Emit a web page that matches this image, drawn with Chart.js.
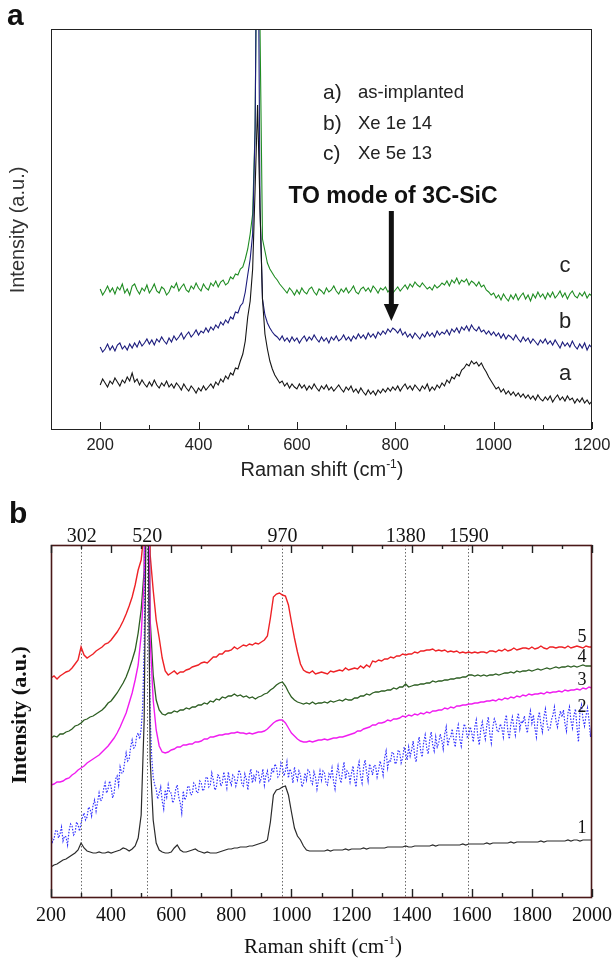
<!DOCTYPE html>
<html>
<head>
<meta charset="utf-8">
<title>Raman spectra</title>
<script src="https://cdn.jsdelivr.net/npm/chart.js@4.4.1/dist/chart.umd.min.js"></script>
<style>
  body { margin: 0; background: #fff; }
  #figure { position: relative; width: 614px; height: 961px; background: #fff; }
  canvas { position: absolute; left: 0; }
  #panel-a { top: 0; }
  #panel-b { top: 480px; }
</style>
</head>
<body>
<div id="figure">
  <canvas id="panel-a" width="614" height="480"></canvas>
  <canvas id="panel-b" width="614" height="481"></canvas>
</div>
<script>
// ---- panel a: Raman shift grid (cm-1, 5 cm-1 steps) and spectra (a.u.) ----
const ramanShiftA = Array.from({ length: 201 }, (_, i) => 200 + i * 5)

const asImplanted = [
  44, 50, 46, 42, 48, 45, 51, 47, 43, 49,
  46, 52, 48, 56, 47, 50, 44, 49, 45, 42,
  47, 43, 49, 44, 41, 46, 43, 48, 42, 45,
  41, 46, 43, 39, 45, 41, 38, 43, 40, 36,
  41, 38, 43, 39, 42, 45, 41, 47, 44, 50,
  47, 53, 50, 56, 54, 61, 60, 68, 75, 88,
  112, 128, 160, 240, 324, 220, 130, 95, 80, 68,
  60, 54, 50, 46, 48, 43, 46, 41, 45, 42,
  40, 45, 41, 44, 39, 43, 40, 45, 41, 38,
  43, 40, 44, 39, 42, 38, 41, 44, 40, 37,
  42, 39, 43, 37, 40, 36, 41, 37, 34, 39,
  35, 38, 34, 39, 36, 40, 37, 41, 38, 42,
  39, 43, 38, 42, 45, 40, 43, 39, 44, 41,
  38, 43, 40, 45, 38, 42, 39, 44, 41, 46,
  43, 49, 46, 52, 50, 55, 53, 59, 61, 65,
  63, 68, 65, 67, 63, 66, 61, 57, 52, 48,
  44, 40, 42, 37, 40, 35, 38, 34, 37, 33,
  36, 32, 35, 31, 34, 30, 33, 29, 34, 30,
  28, 32, 29, 33, 27, 31, 34, 29, 32, 28,
  33, 29, 31, 26, 30, 27, 31, 26, 29, 25,
  28,
]
const xe1e14 = [
  82, 77, 80, 85, 79, 83, 78, 84, 86, 80,
  83, 79, 85, 81, 86, 82, 88, 83, 86, 90,
  85, 89, 84, 90, 87, 92, 88, 85, 91, 87,
  93, 89, 92, 96, 90, 94, 97, 92, 95, 99,
  94, 98, 96, 101, 97, 102, 99, 104, 101, 107,
  104, 109, 106, 112, 110, 117, 116, 123, 126, 137,
  154, 170, 195, 300, 600, 220, 130, 114, 106, 101,
  97, 94, 92, 89, 93, 88, 91, 87, 92, 88,
  91, 86, 90, 93, 88, 92, 89, 94, 90, 87,
  92, 88, 91, 86, 92, 89, 93, 88, 90, 94,
  89, 92, 88, 93, 90, 95, 91, 94, 90, 96,
  92, 95, 91, 97, 94, 98, 95, 100, 97, 101,
  99, 96, 100, 94, 97, 92, 95, 91, 96, 93,
  90, 95, 92, 97, 93, 96, 92, 98, 94, 97,
  95, 99, 94, 100, 97, 101, 96, 102, 99, 103,
  98, 104, 100, 98, 102, 97, 99, 95, 98, 94,
  97, 93, 96, 91, 95, 90, 94, 92, 89, 94,
  90, 87, 92, 88, 91, 86, 90, 87, 84, 89,
  86, 90, 85, 88, 84, 89, 85, 81, 87, 83,
  86, 82, 88, 83, 80, 85, 81, 86, 79, 84,
  81,
]
const xe5e13 = [
  140, 134, 138, 143, 137, 141, 135, 142, 139, 145, 136, 140, 134, 143, 145, 139, 135, 141, 138, 144,
  136, 140, 145, 138, 136, 142, 140, 134, 137, 143, 141, 146, 138, 142, 145, 139, 137, 143, 140, 146,
  141, 138, 145, 141, 139, 146, 143, 148, 142, 147, 149, 144, 146, 152, 150, 155, 154, 160, 162, 170,
  180, 195, 215, 300, 600, 400, 190, 178, 166, 160, 156, 152, 149, 145, 142, 139, 136, 141, 138, 134,
  139, 135, 141, 137, 135, 140, 142, 137, 134, 140, 138, 135, 141, 137, 139, 143, 138, 135, 140, 137,
  141, 136, 139, 143, 137, 135, 140, 142, 138, 141, 137, 143, 140, 136, 141, 139, 142, 137, 140, 136,
  139, 142, 138, 141, 144, 140, 145, 142, 147, 144, 142, 146, 143, 140, 142, 139, 144, 141, 143, 146,
  144, 148, 143, 149, 146, 151, 145, 149, 147, 150, 144, 148, 146, 143, 147, 142, 144, 139, 137, 134,
  136, 131, 134, 129, 135, 131, 128, 134, 130, 135, 129, 133, 136, 130, 134, 128, 135, 131, 137, 132,
  135, 130, 136, 132, 137, 131, 134, 138, 132, 136, 130, 135, 138, 133, 131, 136, 133, 137, 131, 135,
  133,
]
const sampleKeys = ["a)", "b)", "c)"]
const sampleNames = ["as-implanted", "Xe 1e 14", "Xe 5e 13"]
const toModeShift = 792

// ---- panel b ----
const ramanShiftB = Array.from({ length: 181 }, (_, i) => 200 + i * 10)
const ramanShiftBFine = Array.from({ length: 361 }, (_, i) => 200 + i * 5)
const peakMarkers = [302, 520, 970, 1380, 1590]

const spectrum1 = [
  30, 32, 33, 35, 37, 38, 40, 42, 44, 47,
  54, 49, 46, 45, 44, 44, 45, 44, 44, 45,
  44, 45, 46, 47, 49, 48, 46, 48, 51, 59,
  82, 177, 500, 137, 77, 54, 47, 45, 44, 44,
  45, 49, 52, 47, 45, 45, 46, 47, 48, 46,
  45, 44, 45, 44, 44, 44, 45, 46, 47, 48,
  48, 49, 49, 50, 50, 50, 51, 51, 52, 53,
  54, 55, 57, 75, 102, 107, 108, 110, 111, 102,
  85, 69, 61, 57, 51, 47, 46, 46, 46, 46,
  46, 46, 47, 46, 47, 47, 47, 47, 48, 47,
  48, 48, 48, 48, 49, 48, 49, 49, 49, 49,
  49, 49, 50, 50, 50, 50, 50, 50, 51, 50,
  50, 51, 51, 51, 51, 51, 51, 52, 51, 52,
  52, 52, 52, 52, 52, 52, 52, 53, 52, 53,
  53, 53, 53, 53, 53, 54, 53, 54, 54, 54,
  54, 54, 54, 55, 54, 55, 55, 55, 55, 55,
  55, 55, 55, 56, 55, 56, 56, 56, 56, 56,
  56, 56, 57, 56, 57, 57, 56, 57, 57, 57,
  57,
]
// noisy spectrum 2 is sampled every 5 cm-1
const spectrum2 = [
  62, 55, 58, 66, 67, 59, 63, 70, 56, 61, 60, 52, 66, 73, 71, 62, 64, 75, 72, 66,
  74, 80, 84, 77, 80, 90, 88, 81, 92, 97, 86, 95, 104, 96, 98, 108, 114, 104, 108, 116,
  110, 99, 104, 118, 121, 112, 130, 124, 124, 135, 144, 136, 138, 150, 157, 149, 150, 161, 164, 158,
  168, 190, 250, 380, 500, 300, 180, 140, 120, 112, 108, 98, 104, 110, 96, 88, 107, 100, 112, 104,
  104, 94, 98, 108, 112, 100, 94, 84, 106, 97, 100, 111, 110, 102, 103, 114, 112, 104, 105, 116,
  114, 106, 108, 119, 120, 110, 112, 124, 117, 107, 109, 122, 121, 111, 114, 125, 117, 109, 125, 116,
  112, 122, 120, 111, 116, 127, 124, 113, 111, 123, 118, 107, 122, 128, 114, 121, 117, 126, 125, 115,
  119, 128, 112, 121, 126, 116, 118, 129, 124, 133, 130, 120, 122, 134, 130, 121, 126, 135, 119, 128,
  124, 114, 130, 122, 117, 126, 122, 110, 114, 124, 117, 127, 125, 116, 113, 125, 120, 108, 117, 126,
  117, 126, 124, 114, 112, 123, 120, 129, 116, 108, 122, 131, 120, 114, 126, 135, 118, 126, 124, 115,
  124, 131, 117, 110, 128, 135, 121, 114, 130, 137, 125, 116, 133, 128, 122, 132, 131, 120, 127, 136,
  130, 122, 139, 146, 129, 137, 136, 145, 143, 133, 135, 147, 145, 134, 139, 150, 144, 137, 150, 141,
  147, 156, 141, 135, 152, 160, 146, 140, 155, 162, 149, 143, 157, 165, 152, 146, 160, 150, 154, 163,
  157, 148, 163, 170, 151, 158, 160, 168, 157, 150, 166, 172, 158, 151, 164, 173, 169, 160, 162, 170,
  164, 155, 170, 177, 161, 152, 168, 175, 165, 158, 172, 180, 163, 154, 170, 178, 174, 165, 166, 173,
  169, 160, 175, 182, 166, 158, 173, 180, 170, 162, 177, 184, 168, 176, 174, 181, 171, 164, 178, 186,
  174, 182, 169, 160, 178, 185, 172, 165, 180, 188, 174, 167, 168, 177, 182, 190, 176, 170, 179, 186,
  180, 187, 173, 166, 184, 190, 176, 169, 182, 188, 170, 155, 186, 192, 178, 171, 181, 189, 177, 160,
  177,
]
const spectrum3 = [
  112, 113, 115, 115, 116, 118, 119, 122, 124, 127,
  129, 131, 134, 136, 138, 140, 142, 145, 148, 151,
  155, 159, 164, 170, 177, 184, 194, 204, 217, 232,
  262, 317, 600, 257, 197, 167, 151, 145, 144, 145,
  147, 148, 150, 150, 152, 152, 153, 153, 155, 155,
  156, 158, 158, 160, 160, 161, 162, 162, 163, 163,
  164, 164, 165, 164, 164, 163, 164, 163, 164, 165,
  165, 166, 168, 171, 174, 176, 177, 177, 174, 169,
  164, 161, 158, 156, 155, 155, 156, 155, 156, 157,
  157, 158, 157, 158, 159, 159, 160, 160, 161, 162,
  163, 164, 166, 166, 168, 169, 170, 172, 172, 174,
  174, 175, 177, 176, 178, 178, 179, 181, 180, 182,
  181, 183, 182, 184, 183, 185, 184, 186, 186, 187,
  187, 189, 188, 190, 189, 191, 191, 192, 192, 193,
  193, 194, 194, 195, 195, 196, 196, 197, 196, 198,
  197, 199, 198, 200, 199, 201, 200, 202, 201, 203,
  202, 203, 203, 204, 203, 205, 204, 205, 205, 206,
  205, 207, 206, 207, 207, 208, 207, 209, 208, 210,
  209,
]
const spectrum4 = [
  159, 161, 160, 163, 163, 165, 166, 168, 171, 172,
  174, 177, 178, 180, 181, 183, 185, 187, 190, 194,
  196, 200, 204, 209, 214, 220, 228, 237, 247, 264,
  287, 327, 600, 277, 222, 197, 187, 183, 182, 184,
  184, 186, 185, 187, 187, 189, 188, 190, 190, 192,
  192, 194, 193, 196, 195, 198, 197, 200, 199, 201,
  201, 203, 201, 202, 200, 201, 199, 200, 198, 200,
  201, 203, 204, 207, 209, 212, 214, 215, 211, 205,
  200, 197, 195, 194, 193, 194, 193, 195, 193, 194,
  194, 195, 194, 196, 195, 196, 197, 196, 198, 197,
  197, 199, 199, 201, 201, 203, 202, 204, 205, 205,
  206, 206, 207, 207, 209, 208, 210, 210, 213, 210,
  211, 212, 212, 213, 213, 214, 214, 216, 215, 216,
  216, 217, 217, 218, 218, 219, 219, 220, 220, 222,
  222, 221, 222, 221, 222, 221, 222, 222, 223, 222,
  223, 224, 224, 225, 224, 226, 225, 226, 226, 227,
  226, 227, 228, 227, 228, 229, 228, 229, 230, 229,
  230, 230, 231, 230, 231, 230, 231, 232, 231, 231,
  231,
]
const spectrum5 = [
  219, 221, 218, 221, 223, 225, 226, 229, 233, 237,
  250, 242, 239, 241, 243, 246, 248, 250, 253, 254,
  257, 261, 265, 270, 276, 283, 291, 300, 312, 327,
  337, 367, 600, 342, 307, 277, 259, 239, 226, 222,
  224, 226, 223, 225, 225, 227, 228, 230, 231, 232,
  234, 235, 234, 237, 240, 240, 243, 243, 246, 246,
  247, 250, 248, 250, 252, 251, 253, 252, 254, 253,
  255, 257, 261, 279, 300, 303, 304, 302, 301, 292,
  275, 259, 245, 233, 227, 225, 224, 226, 223, 224,
  225, 224, 223, 226, 225, 226, 227, 226, 229, 227,
  228, 229, 228, 231, 229, 232, 230, 236, 235, 237,
  236, 238, 238, 240, 239, 241, 241, 243, 242, 243,
  243, 245, 244, 246, 246, 247, 247, 248, 246, 247,
  246, 247, 245, 246, 245, 246, 244, 245, 244, 245,
  244, 245, 244, 245, 245, 244, 246, 246, 245, 247,
  246, 248, 246, 247, 249, 247, 248, 249, 249, 248,
  250, 248, 249, 251, 249, 248, 250, 250, 249, 250,
  250, 249, 251, 249, 250, 251, 250, 249, 251, 250,
  250,
]
const curveNumbers = ["5", "4", "3", "2", "1"]

const SANS = '"Liberation Sans", Arial, Helvetica, sans-serif'
const SERIF = '"Liberation Serif", "Times New Roman", serif'

const toPoints = (xs, ys) => xs.map((x, i) => ({ x: x, y: ys[i] }))

// keep the plot frame fixed: tick labels may hang over the frame ends
const fixAxisBox = (height) => (s) => {
  s.height = height
  s.paddingLeft = 0
  s.paddingRight = 0
}

function drawText(ctx, str, x, y, font, align, color) {
  ctx.font = font
  ctx.textAlign = align || "left"
  ctx.textBaseline = "alphabetic"
  ctx.fillStyle = color || "#222"
  ctx.fillText(str, x, y)
}

// axis title with a "-1" superscript, centred on cx
function drawUnitTitle(ctx, cx, y, family, size, color) {
  const main = "Raman shift (cm"
  const sup = "-1"
  const close = ")"
  const bigFont = size + "px " + family
  const smallFont = Math.round(size * 0.6) + "px " + family
  ctx.font = bigFont
  const w1 = ctx.measureText(main).width
  const w3 = ctx.measureText(close).width
  ctx.font = smallFont
  const w2 = ctx.measureText(sup).width
  let x = cx - (w1 + w2 + w3) / 2
  drawText(ctx, main, x, y, bigFont, "left", color)
  x += w1
  drawText(ctx, sup, x, y - size * 0.42, smallFont, "left", color)
  x += w2
  drawText(ctx, close, x, y, bigFont, "left", color)
}

function drawVerticalTitle(ctx, str, cx, cy, font, color) {
  ctx.save()
  ctx.translate(cx, cy)
  ctx.rotate(-Math.PI / 2)
  ctx.font = font
  ctx.textAlign = "center"
  ctx.textBaseline = "middle"
  ctx.fillStyle = color
  ctx.fillText(str, 0, 0)
  ctx.restore()
}

const panelADecor = {
  id: "panelADecor",
  afterDraw(chart) {
    const { ctx, chartArea: area } = chart
    const x = chart.scales.x
    ctx.save()
    ctx.strokeStyle = "#222"
    ctx.lineWidth = 1
    ctx.strokeRect(area.left + 0.5, area.top + 0.5, area.right - area.left - 1, area.bottom - area.top)
    // inward ticks on the bottom axis
    x.ticks.forEach((t) => {
      const px = Math.round(x.getPixelForValue(t.value)) + 0.5
      const len = t.value % 200 === 0 ? 7 : 4
      ctx.beginPath()
      ctx.moveTo(px, area.bottom)
      ctx.lineTo(px, area.bottom - len)
      ctx.stroke()
    })

    drawText(ctx, "a", 7, 25, "bold 30px " + SANS, "left", "#111")
    drawVerticalTitle(ctx, "Intensity (a.u.)", 18.5, 230, "20px " + SANS, "#333")
    drawUnitTitle(ctx, 322, 476, SANS, 20, "#222")

    // legend block
    const rows = [98, 129, 159]
    rows.forEach((y, i) => {
      drawText(ctx, sampleKeys[i], 323, y + 1, "21px " + SANS, "left", "#222")
      drawText(ctx, sampleNames[i], 358, y, "18.5px " + SANS, "left", "#222")
    })

    drawText(ctx, "TO mode of 3C-SiC", 393, 203, "bold 23px " + SANS, "center", "#111")
    // arrow pointing at the TO mode
    const ax = x.getPixelForValue(toModeShift)
    ctx.fillStyle = "#111"
    ctx.fillRect(ax - 2.5, 211, 5, 96)
    ctx.beginPath()
    ctx.moveTo(ax - 7.5, 304)
    ctx.lineTo(ax + 7.5, 304)
    ctx.lineTo(ax, 321)
    ctx.closePath()
    ctx.fill()

    // curve letters
    const letters = [["c", 272], ["b", 328], ["a", 380]]
    letters.forEach(([s, y]) => drawText(ctx, s, 565, y, "22px " + SANS, "center", "#222"))
    ctx.restore()
  },
}

const panelBDecor = {
  id: "panelBDecor",
  afterDraw(chart) {
    const { ctx, chartArea: area } = chart
    const x = chart.scales.x
    ctx.save()
    ctx.strokeStyle = "#4a1818"
    ctx.lineWidth = 1.6
    ctx.strokeRect(area.left + 0.5, area.top + 0.5, area.right - area.left - 1, area.bottom - area.top)
    ctx.lineWidth = 1.4
    ctx.strokeStyle = "#222"
    x.ticks.forEach((t) => {
      const px = Math.round(x.getPixelForValue(t.value)) + 0.5
      const len = t.value % 200 === 0 ? 8 : 4
      ctx.beginPath()
      ctx.moveTo(px, area.bottom)
      ctx.lineTo(px, area.bottom - len)
      ctx.moveTo(px, area.top)
      ctx.lineTo(px, area.top + len)
      ctx.stroke()
    })

    drawText(ctx, "b", 9, 43, "bold 30px " + SANS, "left", "#111")
    drawVerticalTitle(ctx, "Intensity (a.u.)", 20, 235, "bold 22px " + SERIF, "#111")
    drawUnitTitle(ctx, 323, 473, SERIF, 21, "#111")

    const numberBaselines = [162, 182, 205, 232, 353]
    curveNumbers.forEach((s, i) => drawText(ctx, s, 582, numberBaselines[i], "18px " + SERIF, "center", "#111"))
    ctx.restore()
  },
}

const baseOptions = {
  responsive: false,
  animation: false,
  devicePixelRatio: 1,
  elements: { point: { radius: 0 }, line: { tension: 0 } },
  plugins: { legend: { display: false }, tooltip: { enabled: false } },
}

new Chart(document.getElementById("panel-a"), {
  type: "line",
  data: {
    datasets: [
      { label: "a) as-implanted", data: toPoints(ramanShiftA, asImplanted), borderColor: "#151515", borderWidth: 1.1 },
      { label: "b) Xe 1e 14", data: toPoints(ramanShiftA, xe1e14), borderColor: "#1b1b7c", borderWidth: 1.1 },
      { label: "c) Xe 5e 13", data: toPoints(ramanShiftA, xe5e13), borderColor: "#1f8c22", borderWidth: 1.1 },
    ],
  },
  options: {
    ...baseOptions,
    layout: { padding: { left: 51, right: 22, top: 29, bottom: 0 } },
    scales: {
      x: {
        type: "linear",
        min: 100,
        max: 1200,
        afterFit: fixAxisBox(51),
        grid: { display: false, drawTicks: false },
        border: { display: false },
        ticks: {
          stepSize: 100,
          autoSkip: false,
          maxRotation: 0,
          padding: 7,
          color: "#222",
          font: { family: SANS, size: 16.5 },
          callback: (v) => (v % 200 === 0 && v >= 200 ? String(v) : ""),
        },
      },
      y: { display: false, min: 0, max: 400 },
    },
  },
  plugins: [panelADecor],
})

new Chart(document.getElementById("panel-b"), {
  type: "line",
  data: {
    datasets: [
      { label: "1", data: toPoints(ramanShiftB, spectrum1), borderColor: "#2b2b2b", borderWidth: 1.2 },
      { label: "2", data: toPoints(ramanShiftBFine, spectrum2), borderColor: "#3434ff", borderWidth: 1.2, borderDash: [1.5, 1.5] },
      { label: "3", data: toPoints(ramanShiftB, spectrum3), borderColor: "#f01cf0", borderWidth: 1.4 },
      { label: "4", data: toPoints(ramanShiftB, spectrum4), borderColor: "#2d5e22", borderWidth: 1.3 },
      { label: "5", data: toPoints(ramanShiftB, spectrum5), borderColor: "#ee2226", borderWidth: 1.4 },
    ],
  },
  options: {
    ...baseOptions,
    layout: { padding: { left: 51, right: 22, top: 0, bottom: 0 } },
    scales: {
      x: {
        type: "linear",
        position: "bottom",
        min: 200,
        max: 2000,
        afterFit: fixAxisBox(64),
        grid: { display: false, drawTicks: false },
        border: { display: false },
        ticks: {
          stepSize: 100,
          autoSkip: false,
          maxRotation: 0,
          padding: 7,
          color: "#111",
          font: { family: SERIF, size: 20 },
          callback: (v) => (v % 200 === 0 ? String(v) : ""),
        },
      },
      x2: {
        type: "linear",
        position: "top",
        min: 200,
        max: 2000,
        afterBuildTicks: (s) => { s.ticks = peakMarkers.map((v) => ({ value: v })) },
        afterFit: fixAxisBox(65),
        grid: { display: true, drawOnChartArea: true, drawTicks: false, color: "#6a6a6a", lineWidth: 1 },
        border: { display: false, dash: [1.5, 2] },
        ticks: {
          autoSkip: false,
          maxRotation: 0,
          padding: -4,
          color: "#111",
          font: { family: SERIF, size: 20 },
          callback: (v) => String(v),
        },
      },
      y: { display: false, min: 0, max: 352 },
    },
  },
  plugins: [panelBDecor],
})
</script>
</body>
</html>
